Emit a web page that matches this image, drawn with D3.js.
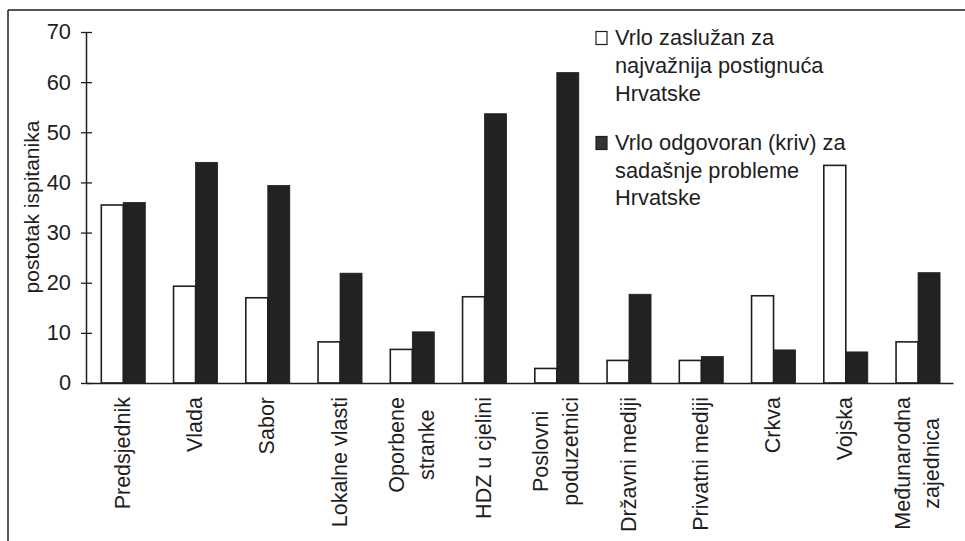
<!DOCTYPE html>
<html>
<head>
<meta charset="utf-8">
<script src="https://cdn.jsdelivr.net/npm/d3@7"></script>
<style>
  html, body { margin: 0; padding: 0; background: #fff; }
  svg { display: block; font-family: "Liberation Sans", Arial, sans-serif; }
</style>
</head>
<body>
<svg id="chart" width="965" height="541"></svg>
<script>
const categories = [
  ["Predsjednik"], ["Vlada"], ["Sabor"], ["Lokalne vlasti"], ["Oporbene", "stranke"],
  ["HDZ u cjelini"], ["Poslovni", "poduzetnici"], ["Državni mediji"], ["Privatni mediji"],
  ["Crkva"], ["Vojska"], ["Međunarodna", "zajednica"]
];
const seriesNames = ["Vrlo zaslužan za najvažnija postignuća Hrvatske",
                     "Vrlo odgovoran (kriv) za sadašnje probleme Hrvatske"];
const legendLines = [
  ["Vrlo zaslužan za", "najvažnija postignuća", "Hrvatske"],
  ["Vrlo odgovoran (kriv) za", "sadašnje probleme", "Hrvatske"]
];
const zasluzan  = [35.5, 19.3, 17.0, 8.2, 6.7, 17.2, 2.9, 4.5, 4.5, 17.4, 43.4, 8.2];
const odgovoran = [36.0, 44.0, 39.4, 21.9, 10.2, 53.7, 61.9, 17.7, 5.3, 6.6, 6.2, 22.0];
const yTicks = [0, 10, 20, 30, 40, 50, 60, 70];
const yTitle = "postotak ispitanika";

const svg = d3.select("#chart");
const ink = "#1e1e1e";
const fsTick = 21.8, fsLab = 21.5, fsLeg = 21.8, fsTitle = 21;

// frame (scanned page border: top & left)
svg.append("line").attr("x1", 8).attr("x2", 965).attr("y1", 10).attr("y2", 10)
  .attr("stroke", ink).attr("stroke-width", 1.5);
svg.append("line").attr("x1", 8).attr("x2", 8).attr("y1", 10).attr("y2", 541)
  .attr("stroke", ink).attr("stroke-width", 1.5);

const catKeys = categories.map(c => c.join(" "));
const x0 = d3.scaleBand().domain(catKeys).range([86, 953]).paddingInner(0).paddingOuter(0);
const x1 = d3.scaleBand().domain([0, 1]).range([15.3, 59.3]);
const y = d3.scaleLinear().domain([0, 70]).range([383, 32]);

const data = catKeys.map((k, i) => ({ key: k, vals: [zasluzan[i], odgovoran[i]] }));

// bars
const g = svg.append("g");
const groups = g.selectAll("g.grp").data(data).join("g")
  .attr("transform", d => `translate(${x0(d.key)},0)`);
groups.selectAll("rect").data(d => d.vals.map((v, s) => ({ v, s }))).join("rect")
  .attr("x", d => x1(d.s))
  .attr("width", x1.bandwidth())
  .attr("y", d => y(d.v))
  .attr("height", d => y(0) - y(d.v))
  .attr("fill", d => d.s === 0 ? "#fff" : "#222")
  .attr("stroke", ink)
  .attr("stroke-width", d => d.s === 0 ? 1.6 : 0.8);

// y axis
const yAxis = d3.axisLeft(y).tickValues(yTicks).tickSize(0).tickPadding(15);
const ya = svg.append("g").attr("transform", "translate(86,0)").call(yAxis);
ya.select(".domain").attr("stroke", ink).attr("stroke-width", 1.5);
ya.selectAll(".tick text").attr("font-size", fsTick).attr("fill", ink)
  .attr("font-family", "'Liberation Sans', Arial, sans-serif");
ya.selectAll(".tick").append("line").attr("x1", -5).attr("x2", 6)
  .attr("stroke", ink).attr("stroke-width", 1.3);

// x axis line
const xa = svg.append("g").attr("transform", `translate(0,${y(0)})`)
  .call(d3.axisBottom(x0).tickSize(0).tickFormat(""));
xa.select(".domain").attr("stroke", ink).attr("stroke-width", 1.5);

// x labels (rotated)
const labelTop = 397, lineGap = 30;
data.forEach((d, i) => {
  const lines = categories[i];
  const cx = x0(d.key) + x1.range()[0] + (x1.range()[1] - x1.range()[0]) / 2;
  const lg = svg.append("g").attr("transform", `translate(${cx},${labelTop}) rotate(-90)`);
  const texts = lines.map((t, j) => lg.append("text")
    .attr("font-size", fsLab).attr("fill", ink)
    .attr("y", (j - (lines.length - 1) / 2) * lineGap)
    .attr("dy", "0.3em")
    .text(t));
  if (lines.length === 1) {
    texts[0].attr("text-anchor", "end").attr("x", 0);
  } else {
    const maxW = d3.max(texts, t => t.node().getComputedTextLength());
    texts.forEach(t => t.attr("text-anchor", "middle").attr("x", -maxW / 2));
  }
});

// y title
svg.append("text").attr("transform", "translate(39,207) rotate(-90)")
  .attr("text-anchor", "middle").attr("font-size", fsTitle).attr("fill", ink)
  .text(yTitle);

// legend
const legendY = [[45, 72.7, 100.7], [150, 178, 205]];
seriesNames.forEach((name, s) => {
  svg.append("rect").attr("x", 596).attr("y", legendY[s][0] - 13.5)
    .attr("width", 11).attr("height", 13)
    .attr("fill", s === 0 ? "#fff" : "#333").attr("stroke", ink).attr("stroke-width", 1.2);
  legendLines[s].forEach((t, j) => {
    svg.append("text").attr("x", 615).attr("y", legendY[s][j])
      .attr("font-size", fsLeg).attr("fill", ink).text(t);
  });
});
</script>
</body>
</html>
